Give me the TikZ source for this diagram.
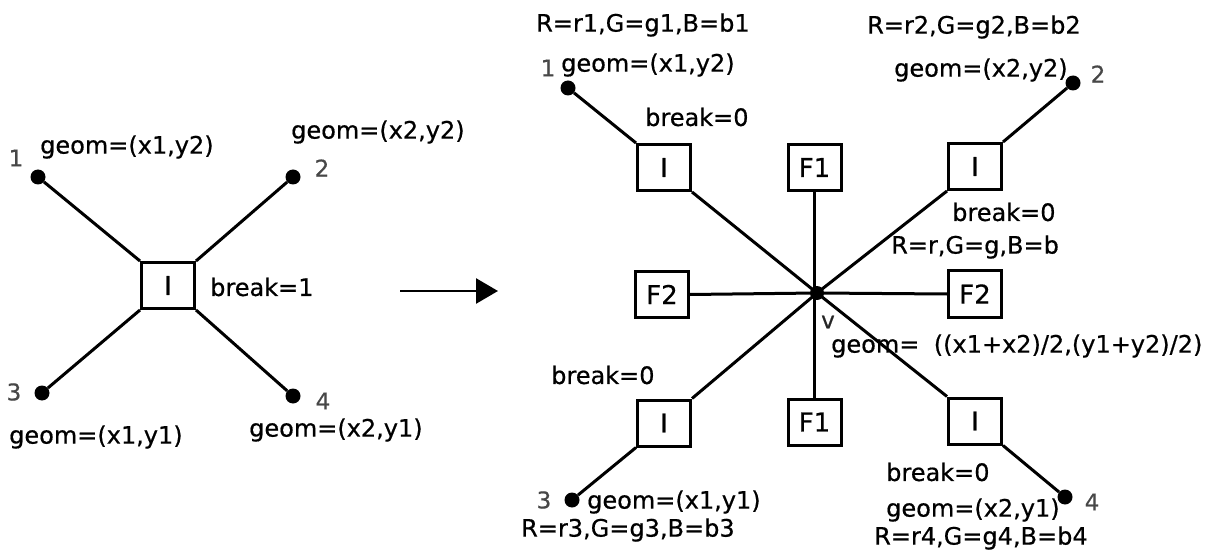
\documentclass[tikz,border=0pt]{standalone}
\usepackage{fontspec}
\setmainfont{DejaVu Sans}
\newfontfamily\labfont[FakeBold=0.6]{DejaVu Sans}
\usetikzlibrary{arrows.meta}
\begin{document}
\begin{tikzpicture}[x=1pt,y=-1pt,
  lbl/.style={inner sep=0pt,font=\labfont\fontsize{24}{26}\selectfont,anchor=west},
  num/.style={inner sep=0pt,font=\labfont\fontsize{23}{25}\selectfont,text=black!72},
  dot/.style={circle,fill=black,inner sep=0pt,minimum size=15pt},
  box/.style={draw,line width=3pt,minimum width=53pt,minimum height=46pt,inner sep=0pt,font=\labfont\fontsize{26}{28}\selectfont},
  link/.style={line width=3pt}]
\useasboundingbox (0,0) rectangle (1212,553);

% ---------- single link with a break ----------
\node[box] (L) at (168,285.5) {I};
\node[dot] (L1) at (38,177) {};
\node[dot] (L2) at (293,177) {};
\node[dot] (L3) at (42,393) {};
\node[dot] (L4) at (293,396) {};
\node[num] (nL1) at (16,158) {1};
\node[num] (nL2) at (322,168) {2};
\node[num] (nL3) at (14,392) {3};
\node[num] (nL4) at (323,401) {4};
\draw[link] (L1) -- (L.north west);
\draw[link] (L2) -- (L.north east);
\draw[link] (L3) -- (L.south west);
\draw[link] (L4) -- (L.south east);
\node[lbl] (gL1) at (40,147) {geom=(x1,y2)};
\node[lbl] (gL2) at (291,132) {geom=(x2,y2)};
\node[lbl] (gL3) at (9,437) {geom=(x1,y1)};
\node[lbl] (gL4) at (249,430) {geom=(x2,y1)};
\node[lbl] (bL) at (210,287) {break=1};

% ---------- transformation arrow ----------
\coordinate (a0) at (400,291);
\coordinate (a1) at (498,291);
\draw[line width=2.6pt,-{Triangle[length=22pt,width=25pt]}] (a0) -- (a1);

% ---------- split into a node with four links ----------
\node[dot,minimum size=14pt] (V) at (817,293) {};
\node[num,text=black!85] (nV) at (828,322) {v};
\node[box] (I1) at (664,167.5) {I};
\node[box] (I2) at (975,166.5) {I};
\node[box] (I3) at (664,423) {I};
\node[box] (I4) at (975,421) {I};
\node[box] (F1a) at (814.5,167.5) {F1};
\node[box] (F1b) at (814.5,422) {F1};
\node[box] (F2a) at (662,294.5) {F2};
\node[box] (F2b) at (975,294) {F2};
\node[dot] (R1) at (568,88) {};
\node[dot] (R2) at (1073,83) {};
\node[dot] (R3) at (572,500) {};
\node[dot] (R4) at (1065,497) {};
\node[num] (nR1) at (548,68) {1};
\node[num] (nR2) at (1098,74) {2};
\node[num] (nR3) at (544,500) {3};
\node[num] (nR4) at (1092,502) {4};

% text first, so the link to I4 runs over the midpoint label
\node[lbl] (c1) at (536,25) {R=r1,G=g1,B=b1};
\node[lbl] (gR1) at (561,65) {geom=(x1,y2)};
\node[lbl] (bR1) at (645,117) {break=0};
\node[lbl] (c2) at (867,27) {R=r2,G=g2,B=b2};
\node[lbl] (gR2) at (894,70) {geom=(x2,y2)};
\node[lbl] (bR2) at (952,212) {break=0};
\node[lbl] (cV) at (891,247) {R=r,G=g,B=b};
\node[lbl] (gV) at (831,346) {geom=\hspace{0.6em}((x1+x2)/2,(y1+y2)/2)};
\node[lbl] (bR3) at (551,375) {break=0};
\node[lbl] (gR3) at (587,502) {geom=(x1,y1)};
\node[lbl] (c3) at (521,530) {R=r3,G=g3,B=b3};
\node[lbl] (bR4) at (886,472) {break=0};
\node[lbl] (gR4) at (886,510) {geom=(x2,y1)};
\node[lbl] (c4) at (874,538) {R=r4,G=g4,B=b4};

\draw[link] (R1) -- (I1.north west);
\draw[link] (R2) -- (I2.north east);
\draw[link] (R3) -- (I3.south west);
\draw[link] (R4) -- (I4.south east);
\draw[link] (V.center) -- (I1.south east);
\draw[link] (V.center) -- (I2.south west);
\draw[link] (V.center) -- (I3.north east);
\draw[link] (V.center) -- (I4.north west);
\draw[link] (F1a.south) -- (F1a.south |- V.center);
\draw[link] (F1b.north) -- (F1b.north |- V.center);
\draw[link] (V.center) -- (F2a.east);
\draw[link] (V.center) -- (F2b.west);
\end{tikzpicture}
\end{document}
